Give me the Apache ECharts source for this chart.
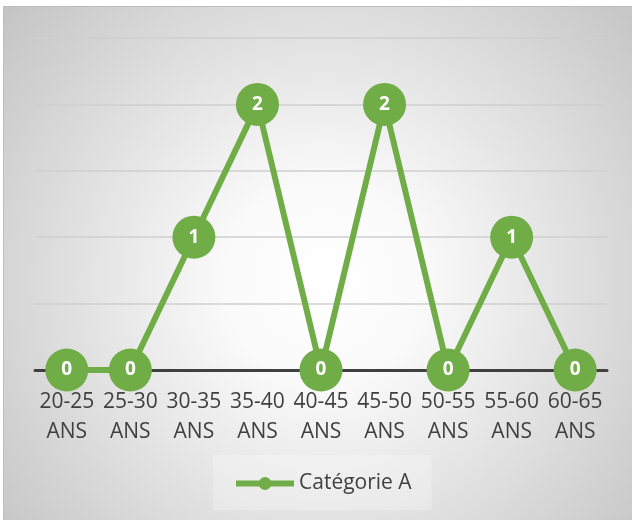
<!DOCTYPE html>
<html>
<head>
<meta charset="utf-8">
<script src="https://cdn.jsdelivr.net/npm/echarts@6/dist/echarts.min.js"></script>
<style>
  html, body { margin: 0; padding: 0; background: #ffffff; }
  #chart { width: 632px; height: 520px; }
</style>
</head>
<body>
<div id="chart"></div>
<script>
// Age brackets along the horizontal axis
const categories = ['20-25\nANS', '25-30\nANS', '30-35\nANS', '35-40\nANS', '40-45\nANS',
                    '45-50\nANS', '50-55\nANS', '55-60\nANS', '60-65\nANS'];
// Counts per bracket
const seriesName = 'Catégorie A';
const values = [0, 0, 1, 2, 0, 2, 0, 1, 0];

const green = '#70ad47';
const fontFamily = '"Open Sans", "Noto Sans", sans-serif';

const chart = echarts.init(document.getElementById('chart'), null, { renderer: 'canvas' });

chart.setOption({
  animation: false,
  graphic: [{
    type: 'rect',
    z: -10,
    silent: true,
    shape: { x: 3.5, y: 6.5, width: 640, height: 530 },
    style: {
      fill: {
        type: 'radial', x: 0.5, y: 0.52, r: 0.85,
        colorStops: [
          { offset: 0, color: '#ffffff' },
          { offset: 0.22, color: '#fafafa' },
          { offset: 1, color: '#bfbfbf' }
        ]
      },
      stroke: '#bdbdbd',
      lineWidth: 1
    }
  }],
  grid: { left: 35, right: 25, top: 38, bottom: 150, containLabel: false },
  legend: {
    data: [seriesName],
    left: 213,
    top: 455,
    padding: [18, 20, 16, 20],
    backgroundColor: 'rgba(255,255,255,0.25)',
    itemWidth: 58,
    itemHeight: 16,
    itemGap: 4,
    lineStyle: { width: 6 },
    textStyle: { fontFamily: fontFamily, fontSize: 21, color: '#404040' }
  },
  xAxis: {
    type: 'category',
    data: categories,
    boundaryGap: true,
    axisLine: { lineStyle: { color: '#404040', width: 3 } },
    axisTick: { show: false },
    axisLabel: {
      interval: 0,
      margin: 17,
      fontFamily: fontFamily,
      fontSize: 21,
      lineHeight: 30,
      color: '#404040'
    }
  },
  yAxis: {
    type: 'value',
    min: 0,
    max: 2.5,
    interval: 0.5,
    axisLine: { show: false },
    axisTick: { show: false },
    axisLabel: { show: false },
    splitLine: { lineStyle: { color: '#cfcfcf', width: 1.5 } }
  },
  series: [{
    name: seriesName,
    type: 'line',
    data: values,
    symbol: 'circle',
    symbolSize: 43,
    lineStyle: { color: green, width: 6 },
    itemStyle: { color: green },
    label: {
      show: true,
      position: 'inside',
      color: '#ffffff',
      fontWeight: 'bold',
      fontFamily: fontFamily,
      fontSize: 19
    },
    z: 3
  }]
});
</script>
</body>
</html>
